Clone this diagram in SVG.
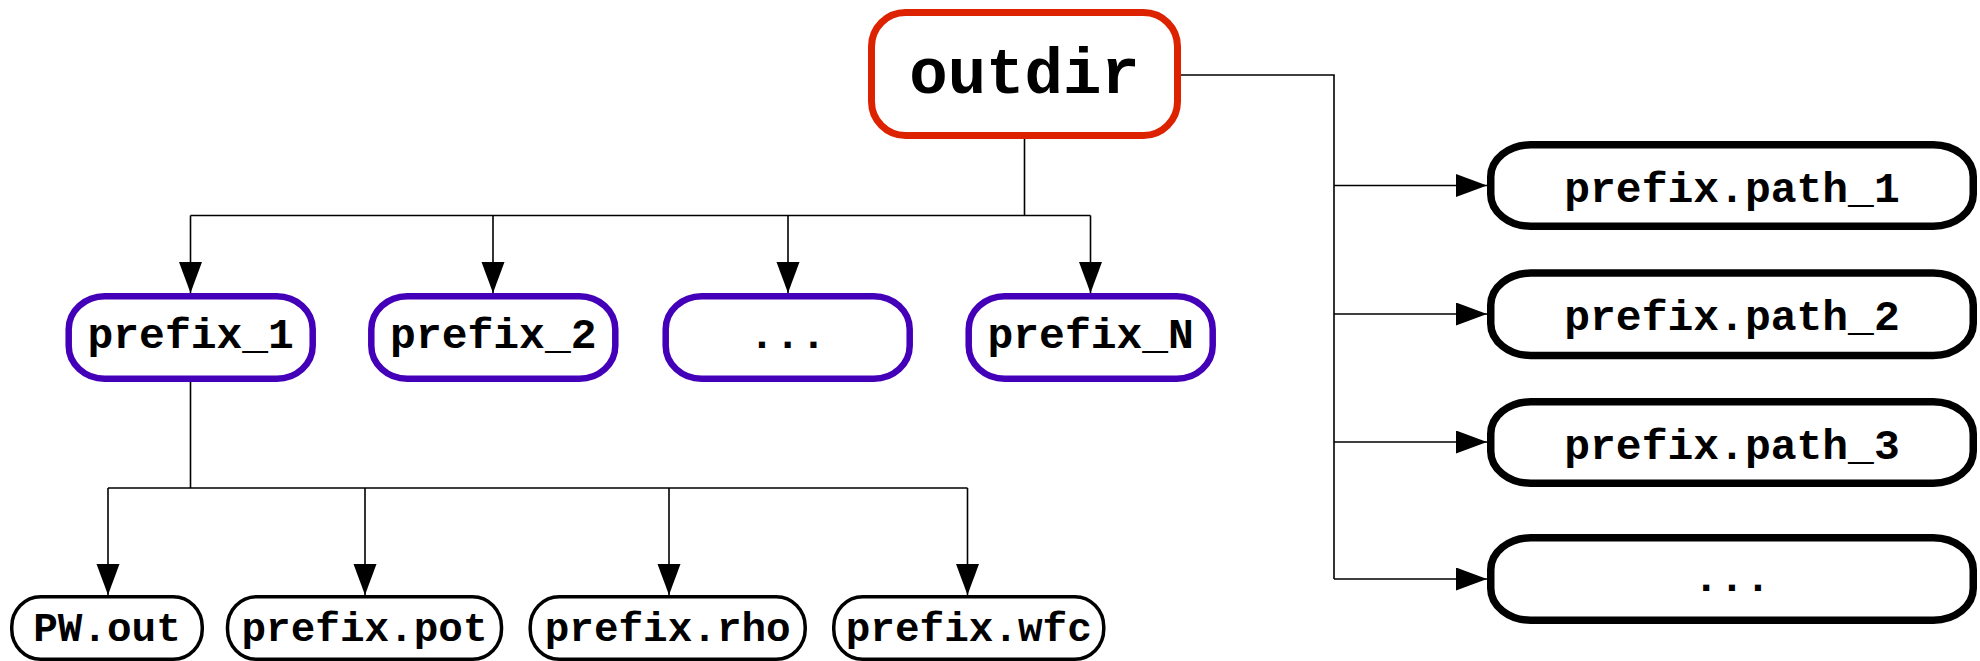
<svg xmlns="http://www.w3.org/2000/svg" width="1980" height="661" viewBox="0 0 1980 661">
<style>
text{font-family:"Liberation Mono","Courier New",monospace;font-weight:bold;fill:#000;text-anchor:middle}
.root{fill:#fff;stroke:#dd2200;stroke-width:7}
.pre{fill:#fff;stroke:#4400b8;stroke-width:6.5}
.path{fill:#fff;stroke:#000;stroke-width:7.5}
.file{fill:#fff;stroke:#000;stroke-width:3.5}
.t1{font-size:64px}
.t2{font-size:43px}
.t3{font-size:41px}
.c{fill:none;stroke:#000;stroke-width:1.6}
</style>
<defs>
<marker id="ah" markerUnits="userSpaceOnUse" markerWidth="32" markerHeight="24" refX="31" refY="11.5" orient="auto">
<path d="M0,0 L31,11.5 L0,23 z" fill="#000"/>
</marker>
</defs>
<rect width="1980" height="661" fill="#fff"/>
<g id="connectors">
<path class="c" d="M1024.5,139 V215.5 M190.5,215.5 H1090.5"/>
<path class="c" d="M190.5,215.5 V293" marker-end="url(#ah)"/>
<path class="c" d="M493,215.5 V293" marker-end="url(#ah)"/>
<path class="c" d="M788,215.5 V293" marker-end="url(#ah)"/>
<path class="c" d="M1090.5,215.5 V293" marker-end="url(#ah)"/>
<path class="c" d="M1181,75 H1334 V579"/>
<path class="c" d="M1334,185.5 H1487" marker-end="url(#ah)"/>
<path class="c" d="M1334,314 H1487" marker-end="url(#ah)"/>
<path class="c" d="M1334,442 H1487" marker-end="url(#ah)"/>
<path class="c" d="M1334,579 H1487" marker-end="url(#ah)"/>
<path class="c" d="M190.5,382 V488 M108,488 H967.5"/>
<path class="c" d="M108,488 V595" marker-end="url(#ah)"/>
<path class="c" d="M365,488 V595" marker-end="url(#ah)"/>
<path class="c" d="M669,488 V595" marker-end="url(#ah)"/>
<path class="c" d="M967.5,488 V595" marker-end="url(#ah)"/>
</g>
<g id="outdir">
<rect class="root" x="871.5" y="12.5" width="306" height="123" rx="34"/>
<text class="t1" x="1024.5" y="93">outdir</text>
</g>
<g id="prefix_1">
<rect class="pre" x="68.7" y="296.25" width="244" height="82.5" rx="36" ry="33"/>
<text class="t2" x="190.7" y="348">prefix_1</text>
</g>
<g id="prefix_2">
<rect class="pre" x="371.3" y="296.25" width="244" height="82.5" rx="36" ry="33"/>
<text class="t2" x="493.3" y="348">prefix_2</text>
</g>
<g id="prefix_dots">
<rect class="pre" x="665.7" y="296.25" width="244" height="82.5" rx="36" ry="33"/>
<text class="t2" x="787.7" y="348">...</text>
</g>
<g id="prefix_N">
<rect class="pre" x="968.7" y="296.25" width="244" height="82.5" rx="36" ry="33"/>
<text class="t2" x="1090.7" y="348">prefix_N</text>
</g>
<g id="path_1">
<rect class="path" x="1490.75" y="144.75" width="482.5" height="81.5" rx="40" ry="32"/>
<text class="t2" x="1732" y="201.7">prefix.path_1</text>
</g>
<g id="path_2">
<rect class="path" x="1490.75" y="273" width="482.5" height="82.5" rx="40" ry="32"/>
<text class="t2" x="1732" y="330">prefix.path_2</text>
</g>
<g id="path_3">
<rect class="path" x="1490.75" y="401.75" width="482.5" height="81.5" rx="40" ry="32"/>
<text class="t2" x="1732" y="458.7">prefix.path_3</text>
</g>
<g id="path_dots">
<rect class="path" x="1490.75" y="537.75" width="482.5" height="82.5" rx="40" ry="32"/>
<text class="t2" x="1732" y="591">...</text>
</g>
<g id="pw_out">
<rect class="file" x="11.75" y="596.75" width="190.5" height="62.5" rx="29" ry="30"/>
<text class="t3" x="107" y="641">PW.out</text>
</g>
<g id="prefix_pot">
<rect class="file" x="227.5" y="596.75" width="274" height="62.5" rx="29" ry="30"/>
<text class="t3" x="364.5" y="641">prefix.pot</text>
</g>
<g id="prefix_rho">
<rect class="file" x="530.2" y="596.75" width="275" height="62.5" rx="29" ry="30"/>
<text class="t3" x="667.7" y="641">prefix.rho</text>
</g>
<g id="prefix_wfc">
<rect class="file" x="833.75" y="596.75" width="270" height="62.5" rx="29" ry="30"/>
<text class="t3" x="968.8" y="641">prefix.wfc</text>
</g>
</svg>
